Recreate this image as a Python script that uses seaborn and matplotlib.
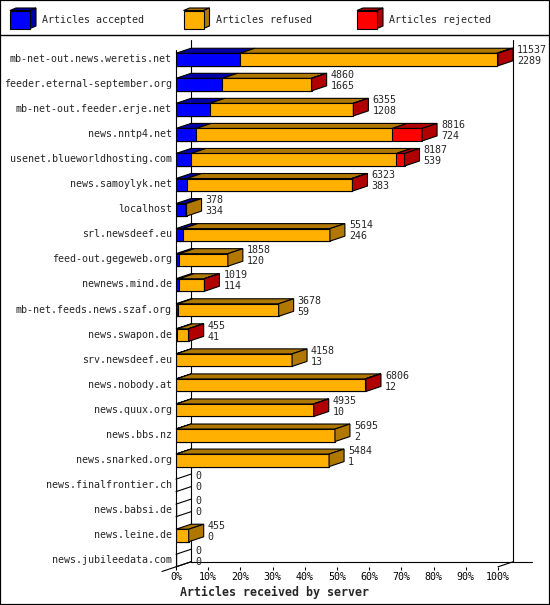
import numpy as np
import pandas as pd
import seaborn as sns
import matplotlib.pyplot as plt
from matplotlib.patches import Polygon, Rectangle

servers = [
    "mb-net-out.news.weretis.net", "feeder.eternal-september.org",
    "mb-net-out.feeder.erje.net", "news.nntp4.net",
    "usenet.blueworldhosting.com", "news.samoylyk.net", "localhost",
    "srl.newsdeef.eu", "feed-out.gegeweb.org", "newnews.mind.de",
    "mb-net.feeds.news.szaf.org", "news.swapon.de", "srv.newsdeef.eu",
    "news.nobody.at", "news.quux.org", "news.bbs.nz", "news.snarked.org",
    "news.finalfrontier.ch", "news.babsi.de", "news.leine.de",
    "news.jubileedata.com",
]
offered = [11537, 4860, 6355, 8816, 8187, 6323, 378, 5514, 1858, 1019,
           3678, 455, 4158, 6806, 4935, 5695, 5484, 0, 0, 455, 0]
accepted = [2289, 1665, 1208, 724, 539, 383, 334, 246, 120, 114,
            59, 41, 13, 12, 10, 2, 1, 0, 0, 0, 0]
refused = [9208, 3187, 5137, 7027, 7355, 5912, 44, 5268, 1738, 895,
           3619, 399, 4145, 6759, 4917, 5693, 5483, 0, 0, 455, 0]
rejected = [40, 8, 10, 1065, 293, 28, 0, 0, 0, 10,
            0, 15, 0, 35, 8, 0, 0, 0, 0, 0, 0]

segment_names = ["Articles accepted", "Articles refused", "Articles rejected"]
face_colors = ["#0000ff", "#ffb000", "#ff0000"]
shade_colors = ["#0000a8", "#b07800", "#b00000"]
x_ticks = list(range(0, 101, 10))
x_title = "Articles received by server"

W, H = 550, 605
DX_PX, DY_PX = 15, 5          # depth of the 3d boxes
AX_LEFT, AX_RIGHT = 176, 498  # front plane, 0% .. 100%
AX_TOP, AX_BOT = 45.5, 566.8
Y_LO, Y_HI = -0.5, 20.31
SHIFT = 0.06                  # bars sit a little below the label rows
HALF = 0.25

sns.set_style("ticks")
plt.rcParams["font.family"] = ["DejaVu Sans Mono"]
plt.rcParams["font.size"] = 7.2

df = pd.DataFrame({"server": servers, "offered": offered, "accepted": accepted,
                   "refused": refused, "rejected": rejected})
scale = 100.0 / df["offered"].max()
segs = df[["accepted", "refused", "rejected"]].to_numpy() * scale
ends = segs.cumsum(axis=1)
starts = ends - segs

px_per_pct = (AX_RIGHT - AX_LEFT) / 100.0
px_per_row = (AX_BOT - AX_TOP) / (Y_HI - Y_LO)
dx = DX_PX / px_per_pct
dy = DY_PX / px_per_row

fig = plt.figure(figsize=(W / 100, H / 100), dpi=100)
ax = fig.add_axes([AX_LEFT / W, 1 - AX_BOT / H,
                   (AX_RIGHT - AX_LEFT) / W, (AX_BOT - AX_TOP) / H])

# front faces: cumulative bars, rightmost segment underneath
for k in [2, 1, 0]:
    sns.barplot(x=ends[:, k], y=df["server"], orient="h", color=face_colors[k],
                saturation=1, width=2 * HALF, edgecolor="black", linewidth=0.8,
                zorder=3 - k, ax=ax)
for p in ax.patches:
    p.set_y(p.get_y() + SHIFT)

# top and side faces
for i in range(len(servers)):
    c = i + SHIFT
    top, bot = c - HALF, c + HALF
    nz = [k for k in range(3) if segs[i, k] > 0]
    if not nz:
        for yy in (top, bot):
            ax.plot([0, dx], [yy, yy - dy], color="black", lw=0.8,
                    clip_on=False, zorder=5)
    for k in nz:
        s, e = starts[i, k], ends[i, k]
        ax.add_patch(Polygon([(s, top), (s + dx, top - dy), (e + dx, top - dy), (e, top)],
                             closed=True, fc=shade_colors[k], ec="black", lw=0.8,
                             clip_on=False, zorder=4))
    if nz:
        k = nz[-1]
        e = ends[i, k]
        ax.add_patch(Polygon([(e, bot), (e, top), (e + dx, top - dy), (e + dx, bot - dy)],
                             closed=True, fc=shade_colors[k], ec="black", lw=0.8,
                             clip_on=False, zorder=4))
    xt = ends[i, -1] + dx + 4 / px_per_pct
    ax.text(xt, i - 0.32, str(offered[i]), va="center", ha="left", clip_on=False)
    ax.text(xt, i + 0.12, str(accepted[i]), va="center", ha="left", clip_on=False)

# walls and floor
back_top = Y_LO - 5.5 / px_per_row
floor = Y_HI - dy
line_kw = dict(color="black", lw=0.8, clip_on=False, zorder=1)
ax.plot([0, 0], [Y_LO + 4.5 / px_per_row, Y_HI], **line_kw)
ax.plot([dx, dx], [back_top, floor], **line_kw)
ax.plot([100 + dx, 100 + dx], [back_top, floor], **line_kw)
ax.plot([dx, 100 + dx + 19 / px_per_pct], [floor, floor], **line_kw)
ext = 14
ax.plot([-ext / px_per_pct, dx], [Y_HI + dy * ext / DX_PX, floor], **line_kw)
ax.plot([100, 100 + dx], [Y_HI, floor], **line_kw)

ax.set_xlim(0, 100)
ax.set_ylim(Y_HI, Y_LO)
ax.set_xticks(x_ticks)
ax.set_xticklabels([f"{v}%" for v in x_ticks])
ax.set_xlabel("")
ax.set_ylabel("")
ax.tick_params(axis="x", bottom=True, length=2.4, width=0.8, pad=1.5,
               direction="out", labelsize=7.2, colors="black")
ax.tick_params(axis="y", left=False, length=0, pad=2.9, labelsize=7.2)
for sp in ax.spines.values():
    sp.set_visible(False)
ax.patch.set_alpha(0)

fig.text(180 / W, 1 - 592 / H, x_title, fontsize=8.4, fontweight="bold",
         va="center", ha="left")

# legend strip with small cubes
lax = fig.add_axes([0, 1 - 35 / H, 1, 35 / H])
lax.set_xlim(0, W)
lax.set_ylim(35, 0)
lax.axis("off")
for k, name in enumerate(segment_names):
    x0 = 10 + k * 173.5
    lax.add_patch(Polygon([(x0, 10.5), (x0 + 6, 8), (x0 + 26, 8), (x0 + 20, 10.5)],
                          fc=shade_colors[k], ec="black", lw=0.8))
    lax.add_patch(Polygon([(x0 + 20, 28.5), (x0 + 20, 10.5), (x0 + 26, 8), (x0 + 26, 26)],
                          fc=shade_colors[k], ec="black", lw=0.8))
    lax.add_patch(Rectangle((x0, 10.5), 20, 18, fc=face_colors[k], ec="black", lw=0.8))
    lax.text(x0 + 32, 20, name, va="center", ha="left", fontsize=7.2)
lax.plot([0, W], [34.5, 34.5], color="black", lw=1, clip_on=False)

fig.add_artist(Rectangle((0, 0), 1, 1, transform=fig.transFigure, fill=False,
                         ec="black", lw=1.6))

fig.savefig("out.png", dpi=100)
